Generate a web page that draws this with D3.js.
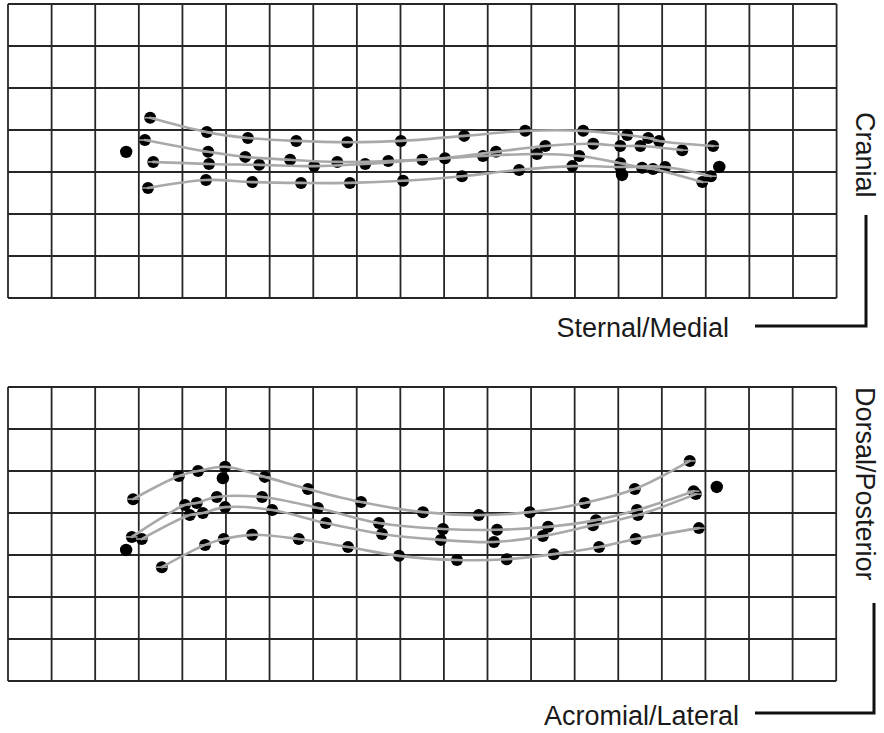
<!DOCTYPE html>
<html>
<head>
<meta charset="utf-8">
<script src="https://cdn.jsdelivr.net/npm/d3@7"></script>
<style>
  html, body { margin: 0; padding: 0; background: #fff; }
  svg { display: block; }
  text { font-family: "Liberation Sans", Arial, Helvetica, sans-serif; fill: #1a1a1a; }
</style>
</head>
<body>
<svg id="chart" width="884" height="733"></svg>
<script>
// Grid is measured in cells: 19 columns by 7 rows in each view.
const gridCols = [0,1,2,3,4,5,6,7,8,9,10,11,12,13,14,15,16,17,18,19];
const gridRows = [0,1,2,3,4,5,6,7];

// Upper view (cranial up, sternal/medial direction along x). Each track is [x, y] in cells.
const topTrack1 = [[3.26,4.29],[4.56,3.95],[5.50,3.81],[6.61,3.74],[7.78,3.71],[9.01,3.74],[10.46,3.86],[11.86,3.98],[13.19,3.98],[14.20,3.88],[14.68,3.81],[14.93,3.74],[16.17,3.62]];
const topTrack2 = [[3.14,3.76],[4.59,3.48],[5.44,3.36],[6.47,3.29],[7.55,3.24],[8.72,3.26],[10.02,3.33],[11.19,3.48],[12.32,3.62],[13.42,3.67],[14.04,3.62],[14.50,3.62],[15.46,3.52]];
const topTrack3 = [[3.33,3.24],[4.61,3.19],[5.76,3.17],[7.02,3.14],[8.19,3.19],[9.50,3.29],[10.89,3.38],[12.13,3.43],[13.10,3.38],[14.04,3.21],[14.54,3.10],[14.79,3.07],[15.92,2.76]];
const topTrack4 = [[3.21,2.62],[4.54,2.81],[5.60,2.76],[6.72,2.74],[7.84,2.74],[9.06,2.79],[10.41,2.90],[11.72,3.05],[12.94,3.14],[14.04,3.12],[15.07,3.12],[16.12,2.90]];
const topSingles = [[2.71,3.48],[14.08,2.93],[16.31,3.12]];

// Lower view (dorsal/posterior up, acromial/lateral direction along x).
const bottomTrack1 = [[2.87,4.33],[3.92,4.88],[4.36,5.00],[4.98,5.10],[5.89,4.86],[6.88,4.57],[8.10,4.26],[9.52,4.02],[10.80,3.95],[11.97,4.02],[13.23,4.24],[14.38,4.57],[15.64,5.24]];
const bottomTrack2 = [[2.84,3.43],[4.06,4.19],[4.33,4.24],[4.79,4.38],[5.83,4.38],[7.11,4.12],[8.51,3.76],[9.98,3.62],[11.22,3.60],[12.39,3.67],[13.49,3.83],[14.43,4.07],[15.73,4.52]];
const bottomTrack3 = [[3.07,3.38],[4.17,3.95],[4.47,4.00],[4.98,4.14],[6.06,4.07],[7.29,3.76],[8.58,3.50],[9.93,3.36],[11.15,3.31],[12.27,3.45],[13.42,3.71],[14.45,3.95],[15.78,4.45]];
const bottomTrack4 = [[3.53,2.71],[4.52,3.24],[4.95,3.38],[5.60,3.48],[6.67,3.38],[7.80,3.19],[8.97,2.98],[10.30,2.88],[11.44,2.90],[12.52,3.02],[13.56,3.19],[14.40,3.38],[15.85,3.64]];
const bottomSingles = [[2.71,3.12],[4.93,4.83],[16.26,4.62]];

const svg = d3.select("#chart");

function drawView(cfg) {
  const x = d3.scaleLinear().domain([0, 19]).range([cfg.left, cfg.right]);
  const y = d3.scaleLinear().domain([0, 7]).range([cfg.bottom, cfg.top]);
  const g = svg.append("g");

  // grid
  g.append("g").selectAll("line").data(gridCols).join("line")
    .attr("x1", d => x(d)).attr("x2", d => x(d))
    .attr("y1", y(0)).attr("y2", y(7))
    .attr("stroke", "#262626").attr("stroke-width", 1.8);
  g.append("g").selectAll("line").data(gridRows).join("line")
    .attr("x1", x(0)).attr("x2", x(19))
    .attr("y1", d => y(d)).attr("y2", d => y(d))
    .attr("stroke", "#262626").attr("stroke-width", 1.8);

  const line = d3.line().x(d => x(d[0])).y(d => y(d[1])).curve(d3.curveCatmullRom.alpha(0.5));
  const allPts = cfg.tracks.flat();

  // track points
  g.append("g").selectAll("circle").data(allPts).join("circle")
    .attr("cx", d => x(d[0])).attr("cy", d => y(d[1])).attr("r", 6)
    .attr("fill", "#000");

  // track lines
  g.append("g").selectAll("path").data(cfg.tracks).join("path")
    .attr("d", line).attr("fill", "none")
    .attr("stroke", "#a9a9a9").attr("stroke-width", 2.6)
    .attr("stroke-linejoin", "round").attr("stroke-linecap", "round");

  // light band across each tracked point
  g.append("g").selectAll("line").data(allPts).join("line")
    .attr("x1", d => x(d[0]) - 5.8).attr("x2", d => x(d[0]) + 5.8)
    .attr("y1", d => y(d[1])).attr("y2", d => y(d[1]))
    .attr("stroke", "#9d9d9d").attr("stroke-width", 1.6);

  // unconnected reference points
  g.append("g").selectAll("circle").data(cfg.singles).join("circle")
    .attr("cx", d => x(d[0])).attr("cy", d => y(d[1])).attr("r", 6.2)
    .attr("fill", "#000");

  // axis captions and orientation bracket
  svg.append("text")
    .attr("x", cfg.hLabelX).attr("y", cfg.hLabelY)
    .attr("text-anchor", "end").attr("font-size", 27)
    .text(cfg.hLabel);
  svg.append("text")
    .attr("transform", `translate(${cfg.vLabelX},${cfg.vLabelY}) rotate(90)`)
    .attr("font-size", 27)
    .text(cfg.vLabel);
  svg.append("path")
    .attr("d", `M${cfg.bx0},${cfg.by1} H${cfg.bx1} V${cfg.by0}`)
    .attr("fill", "none").attr("stroke", "#111").attr("stroke-width", 3);
}

drawView({
  left: 8, right: 836.6, top: 4, bottom: 298,
  tracks: [topTrack1, topTrack2, topTrack3, topTrack4],
  singles: topSingles,
  hLabel: "Sternal/Medial", hLabelX: 729, hLabelY: 337,
  vLabel: "Cranial", vLabelX: 856, vLabelY: 112,
  bx0: 755, bx1: 866, by0: 215, by1: 326
});

drawView({
  left: 8, right: 836.2, top: 387, bottom: 681,
  tracks: [bottomTrack1, bottomTrack2, bottomTrack3, bottomTrack4],
  singles: bottomSingles,
  hLabel: "Acromial/Lateral", hLabelX: 739, hLabelY: 725,
  vLabel: "Dorsal/Posterior", vLabelX: 856, vLabelY: 387,
  bx0: 755, bx1: 874, by0: 603, by1: 713
});
</script>
</body>
</html>
